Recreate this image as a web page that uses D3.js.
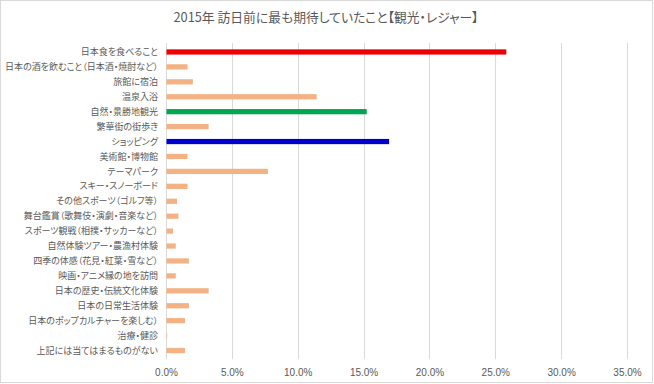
<!DOCTYPE html>
<html>
<head>
<meta charset="utf-8">
<script src="https://cdn.jsdelivr.net/npm/d3@7"></script>
<style>
  body { margin: 0; background: #fff; }
  svg { display: block; }
  .jp { font-feature-settings: "palt"; }
</style>
</head>
<body>
<div id="chart"></div>
<script>
// categories top -> bottom
const categories = [
  "日本食を食べること",
  "日本の酒を飲むこと（日本酒・焼酎など）",
  "旅館に宿泊",
  "温泉入浴",
  "自然・景勝地観光",
  "繁華街の街歩き",
  "ショッピング",
  "美術館・博物館",
  "テーマパーク",
  "スキー・スノーボード",
  "その他スポーツ（ゴルフ等）",
  "舞台鑑賞（歌舞伎・演劇・音楽など）",
  "スポーツ観戦（相撲・サッカーなど）",
  "自然体験ツアー・農漁村体験",
  "四季の体感（花見・紅葉・雪など）",
  "映画・アニメ縁の地を訪問",
  "日本の歴史・伝統文化体験",
  "日本の日常生活体験",
  "日本のポップカルチャーを楽しむ）",
  "治療・健診",
  "上記には当てはまるものがない"
];
// share of respondents (fraction)
const values = [
  0.258, 0.016, 0.020, 0.114, 0.152, 0.032, 0.169, 0.016, 0.077, 0.016,
  0.008, 0.009, 0.005, 0.007, 0.017, 0.007, 0.032, 0.017, 0.014, 0.0005, 0.014
];
const tickValues = [0, 0.05, 0.10, 0.15, 0.20, 0.25, 0.30, 0.35];
const title = "2015年 訪日前に最も期待していたこと【観光・レジャー】";

const data = categories.map((c, i) => ({ name: c, value: values[i] }));

const W = 654, H = 384;
const highlight = {
  "日本食を食べること": "#ee0000",
  "自然・景勝地観光": "#00a650",
  "ショッピング": "#0000cc"
};
const baseColor = "#f4b183";
const textColor = "#595959";
const jpFont = "'Noto Sans CJK JP', sans-serif";

const svg = d3.select("#chart").append("svg")
  .attr("width", W).attr("height", H);

// outer frame
svg.append("rect")
  .attr("x", 0.5).attr("y", 0.5)
  .attr("width", W - 2).attr("height", H - 2)
  .attr("fill", "#fff").attr("stroke", "#d9d9d9");

const x = d3.scaleLinear().domain([0, 0.35]).range([166, 627]);
const y = d3.scaleBand().domain(categories).range([44.5, 358])
  .paddingInner(0.65).paddingOuter(0.325);

// gridlines
svg.append("g")
  .selectAll("line")
  .data(tickValues)
  .enter().append("line")
  .attr("x1", d => Math.round(x(d)) + 0.5)
  .attr("x2", d => Math.round(x(d)) + 0.5)
  .attr("y1", 43).attr("y2", 359)
  .attr("stroke", "#d9d9d9").attr("stroke-width", 1);

// bars
svg.append("g")
  .selectAll("rect")
  .data(data)
  .enter().append("rect")
  .attr("x", x(0) + 0.5)
  .attr("y", d => y(d.name))
  .attr("width", d => x(d.value) - x(0))
  .attr("height", y.bandwidth())
  .attr("fill", d => highlight[d.name] || baseColor);

// category labels
svg.append("g")
  .selectAll("text")
  .data(categories)
  .enter().append("text")
  .attr("class", "jp")
  .attr("x", 158)
  .attr("y", d => y(d) + y.bandwidth() / 2)
  .attr("dy", "0.35em")
  .attr("text-anchor", "end")
  .attr("font-family", jpFont)
  .attr("font-size", 9)
  .attr("fill", textColor)
  .text(d => d);

// x axis labels
const xAxis = svg.append("g")
  .attr("transform", "translate(0,366)")
  .call(d3.axisBottom(x).tickValues(tickValues).tickFormat(d3.format(".1%")).tickSize(0));
xAxis.select(".domain").remove();
xAxis.selectAll("text")
  .attr("font-family", "'Liberation Sans', Arial, sans-serif")
  .attr("font-size", 10)
  .attr("fill", textColor);

// title
svg.append("text")
  .attr("class", "jp")
  .attr("x", 326).attr("y", 22)
  .attr("text-anchor", "middle")
  .attr("font-family", jpFont)
  .attr("font-size", 12.8)
  .attr("fill", textColor)
  .text(title);
</script>
</body>
</html>
